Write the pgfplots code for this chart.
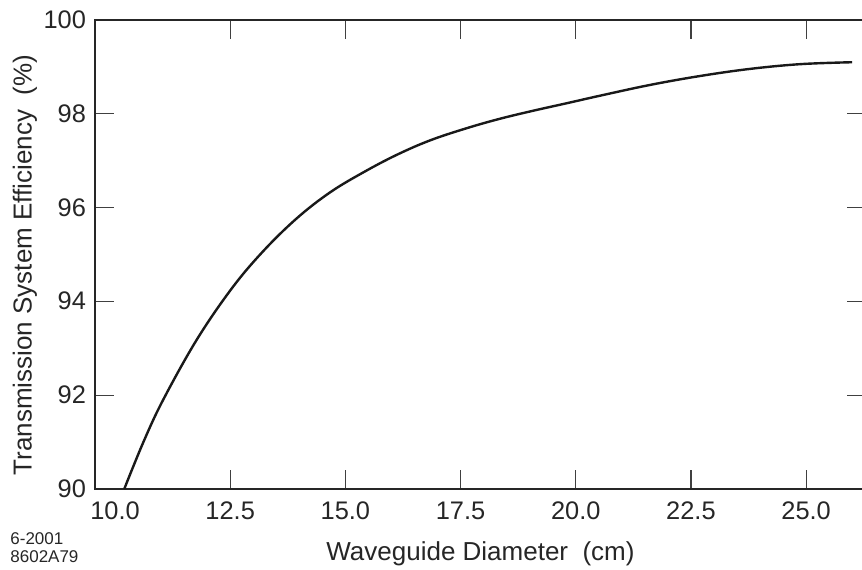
\documentclass[border=0pt]{standalone}
\usepackage{fontspec}
\setmainfont{Liberation Sans}
\usepackage{pgfplots}
\pgfplotsset{compat=1.18}
\begin{document}
\begin{tikzpicture}
\begin{axis}[
  scale only axis,
  width=385.5pt, height=234.75pt,
  xmin=9.565, xmax=26.30,
  ymin=90, ymax=100,
  axis line style={line width=1pt, black!85},
  xtick={12.5,15,17.5,20,22.5,25},
  extra x ticks={10},
  extra x tick style={major tick length=0pt},
  ytick={90,92,...,100},
  major tick length=9.5pt,
  tick style={line width=0.6pt, black!75},
  tick align=inside,
  xtick pos=both, ytick pos=both,
  xticklabel style={font=\fontsize{12.7}{14}\selectfont, yshift=-3pt, text=black!85},
  yticklabel style={font=\fontsize{12.7}{14}\selectfont, xshift=-1pt, text=black!85},
  xticklabels={12.5,15.0,17.5,20.0,22.5,25.0},
  extra x tick labels={10.0},
  /pgf/number format/assume math mode=true,
  xlabel={Waveguide Diameter\ \ (cm)},
  ylabel={Transmission System Efficiency\ \ (\%)},
  label style={font=\fontsize{13}{15}\selectfont, text=black!85},
  xlabel style={at={(axis description cs:0.5,0)}, anchor=base, yshift=-35.5pt},
  ylabel style={at={(axis description cs:-0.0908,0.477)}, anchor=center},
  clip=false,
]
\addplot[line width=1.2pt, black!90, smooth, tension=0.6] coordinates {
(10.20,90.00) (10.62,91.01) (11.05,91.91) (11.78,93.19) (12.54,94.28)
(13.22,95.07) (13.95,95.77) (14.67,96.32) (15.40,96.75) (16.12,97.12)
(16.85,97.43) (17.65,97.69) (18.37,97.89) (19.09,98.06) (19.82,98.22)
(20.54,98.38) (21.63,98.61) (22.72,98.80) (23.80,98.95) (24.89,99.05)
(26.00,99.09)
};
\end{axis}
\node[anchor=north west, inner sep=0pt, align=left, font=\fontsize{8.5}{9}\selectfont, text=black!85]
  at ([xshift=-42.5pt, yshift=-21.5pt]current axis.south west) {6-2001\\8602A79};
\pgfresetboundingbox
\path ([xshift=-47.5pt, yshift=-40pt]current axis.south west) rectangle ([xshift=-2pt, yshift=9.75pt]current axis.north east);
\end{tikzpicture}
\end{document}
